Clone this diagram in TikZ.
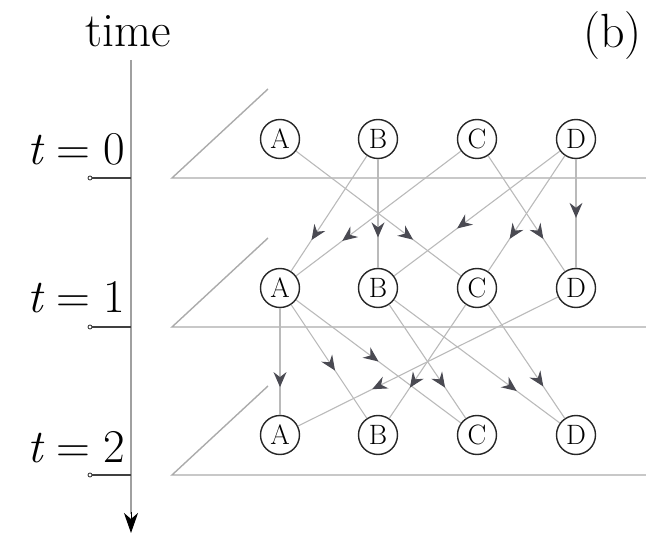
\documentclass[tikz,border=0pt]{standalone}
\usetikzlibrary{arrows.meta,decorations.markings}
\definecolor{planegray}{HTML}{ABABAB}
\definecolor{edgegray}{HTML}{BABABA}
\definecolor{headgray}{HTML}{4A4A52}
\definecolor{axisgray}{HTML}{A0A0A0}
\definecolor{tickdark}{HTML}{404040}
\tikzset{
  state/.style={circle, draw=black!85, line width=1.4pt, minimum size=39pt,
    inner sep=0pt, fill=white, font=\fontsize{28}{32}\selectfont},
  plane/.style={draw=planegray, line width=1.4pt},
  edge/.style={draw=edgegray, line width=1.1pt, postaction={decorate},
    decoration={markings, mark=at position #1 with
      {\arrow{Stealth[length=15pt,width=13pt,inset=5pt,color=headgray]}}}},
  edge/.default=0.72,
  bigtext/.style={inner sep=0pt, font=\fontsize{48}{52}\selectfont},
  ticklbl/.style={inner sep=0pt, anchor=base east, font=\fontsize{47}{50}\selectfont},
  tickmark/.style={draw=tickdark, line width=1.4pt},
  axis/.style={draw=axisgray, line width=1.6pt}
}
\begin{document}
\begin{tikzpicture}[x=1pt,y=-1pt]
\useasboundingbox (0,0) rectangle (646,537);

% titles
\node[bigtext, anchor=base west] (title) at (85,47) {time};
\node[bigtext, anchor=base west] (panel) at (583,48) {(b)};

% time axis
\coordinate (axtop) at (131,60);
\coordinate (axbot) at (131,533);
\draw[axis] (axtop) -- (131,514);
\draw[draw=black, line width=1pt, -{Stealth[length=20pt,width=14pt,inset=6pt,color=black]}] (131,512) -- (axbot);

% ticks and labels
\foreach \ly/\bl/\lab/\nm in {178/165/0/l0, 327/313/1/l1, 475/463/2/l2}{
  \draw[tickmark] (92,\ly) -- (131,\ly);
  \draw[draw=tickdark, line width=0.9pt, fill=white] (90,\ly) circle (2);
  \node[ticklbl] (\nm) at (125,\bl) {{\itshape t}\hspace{0.28em}=\hspace{0.28em}\lab};
}

% planes
\foreach \ly in {178,327,475}{
  \draw[plane] (268,\ly-89) -- (172,\ly) -- (646,\ly);
}

% nodes
\foreach \r/\y in {0/139, 1/288, 2/435}{
  \node[state] (A\r) at (280,\y) {A};
  \node[state] (B\r) at (378,\y) {B};
  \node[state] (C\r) at (477,\y) {C};
  \node[state] (D\r) at (576,\y) {D};
}

% edges t=0 -> t=1
\draw[edge=0.71] (A0) -- (C1);
\draw[edge=0.73] (B0) -- (A1);
\draw[edge=0.72] (B0) -- (B1);
\draw[edge=0.72] (C0) -- (A1);
\draw[edge=0.72] (C0) -- (D1);
\draw[edge=0.62] (D0) -- (B1);
\draw[edge=0.72] (D0) -- (C1);
\draw[edge=0.54] (D0) -- (D1);

% edges t=1 -> t=2
\draw[edge=0.74] (A1) -- (A2);
\draw[edge=0.58] (A1) -- (B2);
\draw[edge=0.50] (A1) -- (C2);
\draw[edge=0.73] (C1) -- (B2);
\draw[edge=0.715] (D1) -- (A2);
\draw[edge=0.73] (B1) -- (C2);
\draw[edge=0.74] (B1) -- (D2);
\draw[edge=0.72] (C1) -- (D2);
\end{tikzpicture}
\end{document}
